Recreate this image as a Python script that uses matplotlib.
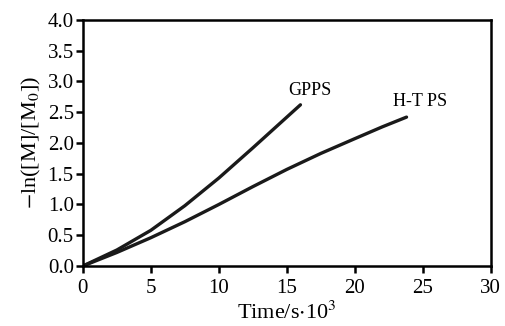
import numpy as np
import matplotlib
matplotlib.use("Agg")
import matplotlib.pyplot as plt

# values
gpps_t = [0, 2.5, 5, 7.5, 10, 12.5, 14, 16]
gpps_y = [0, 0.26, 0.58, 0.98, 1.43, 1.92, 2.22, 2.62]
htps_t = [0, 2.5, 5, 7.5, 10, 12.5, 15, 17.5, 20, 22, 23.8]
htps_y = [0, 0.22, 0.46, 0.72, 1.0, 1.29, 1.57, 1.83, 2.07, 2.26, 2.42]
xticks = [0, 5, 10, 15, 20, 25, 30]
yticks = [0.0, 0.5, 1.0, 1.5, 2.0, 2.5, 3.0, 3.5, 4.0]

plt.rcParams['font.family'] = ['Liberation Serif', 'DejaVu Serif']
plt.rcParams['mathtext.fontset'] = 'stix'

fig = plt.figure(figsize=(5.05, 3.26), dpi=100)
ax = fig.add_axes([0.164, 0.184, 0.808, 0.755])

ax.plot(gpps_t, gpps_y, color='#1a1a1a', lw=2.4, solid_capstyle='round')
ax.plot(htps_t, htps_y, color='#1a1a1a', lw=2.4, solid_capstyle='round')
ax.text(16.7, 2.85, 'GPPS', ha='center', va='center', fontsize=13)
ax.text(24.8, 2.67, 'H-T PS', ha='center', va='center', fontsize=13)

ax.set_xlim(0, 30)
ax.set_ylim(0, 4.0)
ax.set_xticks(xticks)
ax.set_yticks(yticks)
ax.set_yticklabels([f"{v:.1f}" for v in yticks])
ax.tick_params(direction='out', length=5, width=1.8, labelsize=15, pad=1.5)
ax.tick_params(axis='x', pad=4)
for s in ax.spines.values():
    s.set_linewidth(1.8)

ax.set_xlabel(r'Time/s$\cdot$10$^3$', fontsize=16, labelpad=3)
ax.set_ylabel(r'$-$ln([M]/[M$_0$])', fontsize=16, labelpad=3)

fig.savefig('out.png', dpi=100)
